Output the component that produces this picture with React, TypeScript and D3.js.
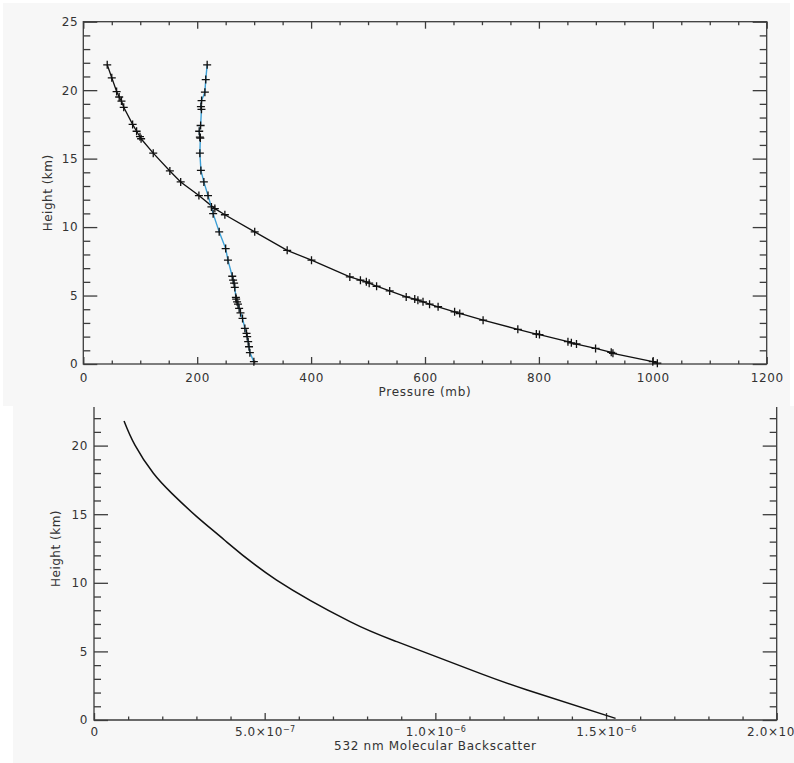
import React, { useEffect, useRef } from "react";
import * as d3 from "d3";

// ---- Top panel data: pressure (mb) and temperature (K) vs height (km)
const pressureMb = [42, 50, 58.5, 63, 67, 71, 86.6, 93.6, 99.5, 101.5, 122.8, 152, 171, 203, 231, 248.6, 301, 358, 400.7, 468, 486.6, 497, 502, 515, 538, 567, 582, 587.5, 596.5, 608, 623, 652, 661, 702, 763, 795.5, 801, 851, 857, 866, 899.5, 927, 930, 1000, 1008];
const pressureKm = [21.85, 20.9, 19.9, 19.5, 19.2, 18.75, 17.5, 17.0, 16.6, 16.45, 15.4, 14.1, 13.3, 12.3, 11.35, 10.9, 9.65, 8.3, 7.58, 6.36, 6.12, 6.0, 5.9, 5.68, 5.34, 4.9, 4.74, 4.66, 4.54, 4.37, 4.18, 3.81, 3.69, 3.2, 2.53, 2.19, 2.15, 1.63, 1.55, 1.46, 1.14, 0.85, 0.78, 0.17, 0.06];

const temperatureK = [217.5, 215, 213.5, 207.7, 206.5, 207.5, 206, 203.5, 204.7, 205.5, 204.7, 206.5, 211.7, 219, 225, 228, 238.6, 250, 254, 261.5, 263, 264.8, 266, 267.9, 268.4, 270, 271.6, 273.6, 276, 279.6, 283.7, 286.6, 287.7, 289.5, 291, 292.5, 299.5];
const temperatureKm = [21.85, 20.77, 19.85, 19.24, 18.8, 18.6, 17.42, 17.0, 16.57, 16.5, 15.4, 14.14, 13.3, 12.3, 11.47, 10.98, 9.65, 8.43, 7.58, 6.41, 6.12, 5.9, 5.59, 4.86, 4.74, 4.54, 4.37, 4.06, 3.74, 3.33, 2.6, 2.24, 2.0, 1.63, 1.26, 0.83, 0.17];

// ---- Bottom panel data: 532 nm molecular backscatter vs height (km)
const backscatter = [0.88e-7, 1.2e-7, 1.74e-7, 2.28e-7, 3.01e-7, 3.82e-7, 5.35e-7, 7.5e-7, 8.87e-7, 11.31e-7, 12.69e-7, 15.28e-7];
const backscatterKm = [21.8, 20.04, 17.98, 16.52, 14.82, 13.12, 10.2, 7.17, 5.71, 3.4, 2.19, 0.12];

// ---- Ticks
const topXTicks = [0, 200, 400, 600, 800, 1000, 1200];
const topYTicks = [0, 5, 10, 15, 20, 25];
const bottomXTicks = [0, 5e-7, 1e-6, 1.5e-6, 2e-6];
const bottomXTickBase = ["0", "5.0×10", "1.0×10", "1.5×10", "2.0×10"];
const bottomXTickExp = ["", "−7", "−6", "−6", "−6"];
const bottomYTicks = [0, 5, 10, 15, 20];

const topXLabel = "Pressure (mb)";
const bottomXLabel = "532 nm Molecular Backscatter";
const yLabel = "Height (km)";

export default function App() {
  const ref = useRef<SVGSVGElement>(null);

  useEffect(() => {
    const svg = d3.select(ref.current);
    svg.selectAll("*").remove();
    const W = 794, H = 763;
    const axisColor = "#3c3c3c";
    const textColor = "#333";
    const font = "'DejaVu Sans', sans-serif";

    svg.append("rect").attr("x", 0).attr("y", 0).attr("width", W).attr("height", H).attr("fill", "#fff");
    svg.append("rect").attr("x", 3).attr("y", 3).attr("width", 787).attr("height", 403).attr("fill", "#f7f7f7");
    svg.append("rect").attr("x", 13).attr("y", 406).attr("width", 781).attr("height", 357).attr("fill", "#f7f7f7");

    const styleAxis = (g: any) => {
      g.select(".domain").remove();
      g.selectAll("line").attr("stroke", axisColor).attr("stroke-width", 1.3);
      g.selectAll("text")
        .attr("fill", textColor)
        .attr("font-family", font)
        .attr("font-size", 12)
        .attr("letter-spacing", 0.6);
    };
    const minorOf = (lo: number, hi: number, step: number, majors: number[]) =>
      d3.range(lo, hi + step / 2, step).filter((v) => !majors.some((m) => Math.abs(m - v) < step / 100));

    const plus = "M-4,0H4M0,-4V4";

    // ================= TOP PANEL =================
    const tx = d3.scaleLinear().domain([0, 1200]).range([83.3, 766.7]);
    const ty = d3.scaleLinear().domain([0, 25]).range([364, 21.7]);
    const top = svg.append("g");

    const txMinor = minorOf(0, 1200, 50, topXTicks);
    const tyMinor = minorOf(0, 25, 1, topYTicks);

    top.append("g").attr("transform", `translate(0,${ty(0)})`)
      .call(d3.axisBottom(tx).tickValues(topXTicks).tickSize(-7).tickPadding(9).tickFormat(d3.format("d")))
      .call(styleAxis);
    top.append("g").attr("transform", `translate(0,${ty(0)})`)
      .call(d3.axisBottom(tx).tickValues(txMinor).tickSize(-3.5).tickFormat(() => ""))
      .call(styleAxis);
    top.append("g").attr("transform", `translate(0,${ty(25)})`)
      .call(d3.axisTop(tx).tickValues(topXTicks).tickSize(-7).tickFormat(() => ""))
      .call(styleAxis);
    top.append("g").attr("transform", `translate(0,${ty(25)})`)
      .call(d3.axisTop(tx).tickValues(txMinor).tickSize(-3.5).tickFormat(() => ""))
      .call(styleAxis);
    top.append("g").attr("transform", `translate(${tx(0)},0)`)
      .call(d3.axisLeft(ty).tickValues(topYTicks).tickSize(-14).tickPadding(5).tickFormat(d3.format("d")))
      .call(styleAxis);
    top.append("g").attr("transform", `translate(${tx(0)},0)`)
      .call(d3.axisLeft(ty).tickValues(tyMinor).tickSize(-7).tickFormat(() => ""))
      .call(styleAxis);
    top.append("g").attr("transform", `translate(${tx(1200)},0)`)
      .call(d3.axisRight(ty).tickValues(topYTicks).tickSize(-14).tickFormat(() => ""))
      .call(styleAxis);
    top.append("g").attr("transform", `translate(${tx(1200)},0)`)
      .call(d3.axisRight(ty).tickValues(tyMinor).tickSize(-7).tickFormat(() => ""))
      .call(styleAxis);
    top.append("rect")
      .attr("x", tx(0)).attr("y", ty(25))
      .attr("width", tx(1200) - tx(0)).attr("height", ty(0) - ty(25))
      .attr("fill", "none").attr("stroke", axisColor).attr("stroke-width", 1.3);

    top.append("text")
      .attr("x", (tx(0) + tx(1200)) / 2).attr("y", 396)
      .attr("text-anchor", "middle").attr("font-family", font).attr("font-size", 12)
      .attr("letter-spacing", 0.7).attr("fill", textColor).text(topXLabel);
    top.append("text")
      .attr("transform", `translate(52,${(ty(0) + ty(25)) / 2}) rotate(-90)`)
      .attr("text-anchor", "middle").attr("font-family", font).attr("font-size", 12)
      .attr("letter-spacing", 0.5).attr("fill", textColor).text(yLabel);

    const pData = pressureMb.map((p, i) => [p, pressureKm[i]] as [number, number]);
    const tData = temperatureK.map((t, i) => [t, temperatureKm[i]] as [number, number]);
    const line = d3.line<[number, number]>().x((d) => tx(d[0])).y((d) => ty(d[1]));

    top.append("path").attr("d", line(pData)).attr("fill", "none").attr("stroke", "#111").attr("stroke-width", 1.3);
    top.append("path").attr("d", line(tData)).attr("fill", "none").attr("stroke", "#3b9fd6").attr("stroke-width", 1.4);
    top.selectAll(".pm").data(pData).enter().append("path")
      .attr("transform", (d) => `translate(${tx(d[0])},${ty(d[1])})`)
      .attr("d", plus).attr("stroke", "#111").attr("stroke-width", 1.3).attr("fill", "none");
    top.selectAll(".tm").data(tData).enter().append("path")
      .attr("transform", (d) => `translate(${tx(d[0])},${ty(d[1])})`)
      .attr("d", plus).attr("stroke", "#111").attr("stroke-width", 1.3).attr("fill", "none");

    // ================= BOTTOM PANEL =================
    const bx = d3.scaleLinear().domain([0, 2e-6]).range([94, 776.7]);
    const by = d3.scaleLinear().domain([0, 25]).range([720, 720 - 25 * 13.72]);
    const bot = svg.append("g");
    const topCut = 407;

    const bxMinor = minorOf(0, 2e-6, 1e-7, bottomXTicks);
    const byMinor = minorOf(0, 22, 1, bottomYTicks);

    const xAx = bot.append("g").attr("transform", `translate(0,${by(0)})`)
      .call(d3.axisBottom(bx).tickValues(bottomXTicks).tickSize(-7).tickPadding(7).tickFormat(() => ""))
      .call(styleAxis);
    xAx.selectAll("text").each(function (_d, i) {
      const t = d3.select(this);
      t.text(null);
      t.append("tspan").text(bottomXTickBase[i]);
      if (bottomXTickExp[i]) {
        t.append("tspan").attr("dy", "-0.5em").attr("font-size", 8).attr("letter-spacing", 0.3).text(bottomXTickExp[i]);
      }
    });
    bot.append("g").attr("transform", `translate(0,${by(0)})`)
      .call(d3.axisBottom(bx).tickValues(bxMinor).tickSize(-3.5).tickFormat(() => ""))
      .call(styleAxis);
    bot.append("g").attr("transform", `translate(${bx(0)},0)`)
      .call(d3.axisLeft(by).tickValues(bottomYTicks).tickSize(-14).tickPadding(6).tickFormat(d3.format("d")))
      .call(styleAxis);
    bot.append("g").attr("transform", `translate(${bx(0)},0)`)
      .call(d3.axisLeft(by).tickValues(byMinor).tickSize(-7).tickFormat(() => ""))
      .call(styleAxis);
    bot.append("g").attr("transform", `translate(${bx(2e-6)},0)`)
      .call(d3.axisRight(by).tickValues(bottomYTicks).tickSize(-14).tickFormat(() => ""))
      .call(styleAxis);
    bot.append("g").attr("transform", `translate(${bx(2e-6)},0)`)
      .call(d3.axisRight(by).tickValues(byMinor).tickSize(-7).tickFormat(() => ""))
      .call(styleAxis);
    bot.append("path")
      .attr("d", `M${bx(0)},${topCut}V${by(0)}H${bx(2e-6)}V${topCut}`)
      .attr("fill", "none").attr("stroke", axisColor).attr("stroke-width", 1.3);

    bot.append("text")
      .attr("x", (bx(0) + bx(2e-6)) / 2).attr("y", 750)
      .attr("text-anchor", "middle").attr("font-family", font).attr("font-size", 12)
      .attr("letter-spacing", 0.7).attr("fill", textColor).text(bottomXLabel);
    bot.append("text")
      .attr("transform", `translate(60,${(by(0) + by(25)) / 2}) rotate(-90)`)
      .attr("text-anchor", "middle").attr("font-family", font).attr("font-size", 12)
      .attr("letter-spacing", 0.5).attr("fill", textColor).text(yLabel);

    const bData = backscatter.map((b, i) => [b, backscatterKm[i]] as [number, number]);
    const bLine = d3.line<[number, number]>().x((d) => bx(d[0])).y((d) => by(d[1])).curve(d3.curveNatural);
    bot.append("path").attr("d", bLine(bData)).attr("fill", "none").attr("stroke", "#111").attr("stroke-width", 1.5);
  }, []);

  return (
    <svg
      ref={ref}
      width={794}
      height={763}
      style={{ position: "absolute", left: 0, top: 0, display: "block" }}
    />
  );
}
